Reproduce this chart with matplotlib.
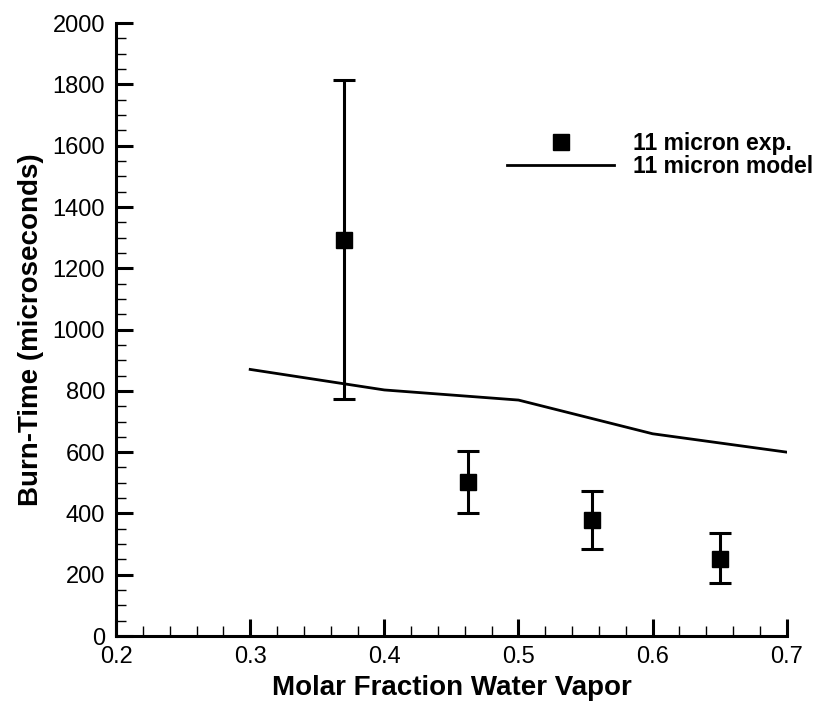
import matplotlib
matplotlib.use("Agg")
import matplotlib.pyplot as plt
from matplotlib.ticker import MultipleLocator

plt.rcParams["font.family"] = ["Liberation Sans", "DejaVu Sans"]

# experiment (11 micron particles)
exp_x = [0.37, 0.462, 0.555, 0.650]
exp_y = [1292, 503, 378, 252]
exp_lo = [773, 402, 283, 172]
exp_hi = [1814, 604, 474, 335]

# model curve
model_x = [0.3, 0.4, 0.5, 0.6, 0.7]
model_y = [870, 803, 770, 660, 600]

fig = plt.figure(figsize=(8.23, 7.02), dpi=100)
ax = fig.add_axes([0.141, 0.094, 0.815, 0.873])

yerr = [[y - lo for y, lo in zip(exp_y, exp_lo)],
        [hi - y for y, hi in zip(exp_y, exp_hi)]]
ax.errorbar(exp_x, exp_y, yerr=yerr, fmt="none", ecolor="black",
            elinewidth=2.2, capsize=8, capthick=2.2, zorder=2)
h_exp, = ax.plot(exp_x, exp_y, ls="none", marker="s", ms=11.5,
                 color="black", label="11 micron exp.", zorder=3)
h_mod, = ax.plot(model_x, model_y, color="black", lw=2,
                 label="11 micron model", zorder=2)

ax.set_xlim(0.2, 0.7)
ax.set_ylim(0, 2000)
ax.xaxis.set_major_locator(MultipleLocator(0.1))
ax.xaxis.set_minor_locator(MultipleLocator(0.02))
ax.yaxis.set_major_locator(MultipleLocator(200))
ax.yaxis.set_minor_locator(MultipleLocator(50))

for s in ("top", "right"):
    ax.spines[s].set_visible(False)
for s in ("left", "bottom"):
    ax.spines[s].set_linewidth(2.2)

ax.tick_params(which="major", direction="in", length=12, width=2.2,
               labelsize=17)
ax.tick_params(which="minor", direction="in", length=7, width=1)
ax.tick_params(axis="y", which="major", pad=8)
ax.tick_params(axis="x", which="major", pad=7)

ax.set_xlabel("Molar Fraction Water Vapor", fontsize=20, fontweight="bold",
              labelpad=5)
ax.set_ylabel("Burn-Time (microseconds)", fontsize=20, fontweight="bold",
              labelpad=6)

ax.legend(handles=[h_exp, h_mod], loc="upper left",
          bbox_to_anchor=(0.5915, 0.842), bbox_transform=fig.transFigure,
          frameon=False, numpoints=1, handlelength=4.67, handletextpad=0.83,
          labelspacing=0.0, prop={"size": 16.5, "weight": "bold"})

fig.savefig("out.png", dpi=100)
